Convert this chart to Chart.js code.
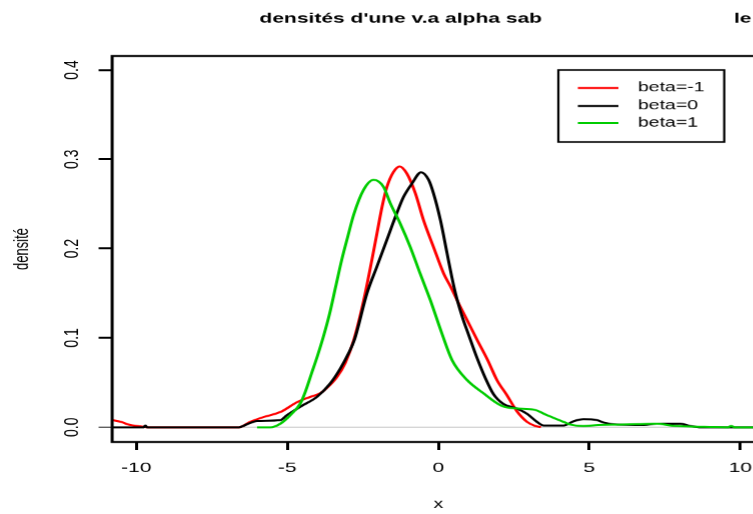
<!DOCTYPE html>
<html>
<head>
<meta charset="utf-8">
<title>densités d'une v.a alpha sab</title>
<script src="https://cdn.jsdelivr.net/npm/chart.js@4.4.1/dist/chart.umd.min.js"></script>
<style>
  html, body { margin: 0; padding: 0; background: #fff; overflow: hidden; }
  /* the source picture is stretched sideways, so the chart is drawn narrow and widened */
  #wrap { position: absolute; left: 0; top: 0; width: 527px; height: 514px; transform: scaleX(1.5); transform-origin: 0 0; }
</style>
</head>
<body>
<div id="wrap"><canvas id="densityChart"></canvas></div>
<script>
// Density estimates
const redX = [-10.8, -10.5, -10.3, -10.1, -9.87, -9.6, -6.6, -6.23, -5.78, -5.23, -4.68, -4.24, -3.91, -3.69, -3.36, -3.08, -2.8, -2.47, -2.2, -2.03, -1.86, -1.7, -1.48, -1.28, -1.04, -0.76, -0.49, -0.16, 0.18, 0.4, 0.7, 1.0, 1.3, 1.64, 1.94, 2.27, 2.6, 2.94, 3.21, 3.4];
const redY = [0.008, 0.006, 0.0034, 0.002, 0.001, 0, 0, 0.006, 0.0115, 0.017, 0.028, 0.034, 0.038, 0.044, 0.056, 0.072, 0.0975, 0.142, 0.187, 0.217, 0.247, 0.269, 0.286, 0.292, 0.284, 0.262, 0.232, 0.202, 0.172, 0.158, 0.137, 0.117, 0.097, 0.075, 0.053, 0.036, 0.018, 0.006, 0.0015, 0];

const blackX = [-10.8, -9.75, -9.7, -9.65, -6.6, -6.33, -6.0, -5.23, -5.01, -4.57, -4.02, -3.58, -3.24, -2.97, -2.78, -2.36, -2.03, -1.7, -1.37, -1.15, -0.87, -0.57, -0.32, -0.16, 0.07, 0.29, 0.45, 0.6, 0.8, 1.0, 1.29, 1.56, 1.83, 2.16, 2.6, 2.94, 3.27, 3.49, 4.15, 4.48, 4.81, 5.25, 5.5, 5.92, 6.8, 7.24, 8.01, 8.34, 8.7, 10.8];
const blackY = [0, 0, 0.002, 0, 0, 0.0034, 0.007, 0.008, 0.0135, 0.023, 0.034, 0.049, 0.066, 0.083, 0.0975, 0.15, 0.18, 0.21, 0.24, 0.258, 0.273, 0.2855, 0.277, 0.262, 0.232, 0.195, 0.168, 0.146, 0.123, 0.104, 0.077, 0.055, 0.037, 0.026, 0.021, 0.015, 0.006, 0.002, 0.002, 0.0067, 0.009, 0.008, 0.005, 0.003, 0.0025, 0.004, 0.004, 0.0015, 0, 0];

const greenX = [-6.0, -5.56, -5.23, -4.9, -4.57, -4.4, -4.2, -4.0, -3.8, -3.6, -3.4, -3.2, -3.0, -2.8, -2.47, -2.14, -1.81, -1.59, -1.26, -0.93, -0.6, -0.26, 0.12, 0.46, 0.95, 1.5, 2.1, 2.6, 3.16, 3.6, 4.15, 4.37, 4.8, 5.3, 6.0, 6.6, 7.24, 7.7, 8.3, 9.0, 9.6, 9.7, 9.8, 10.8];
const greenY = [0, 0, 0.004, 0.0135, 0.0265, 0.04, 0.06, 0.08, 0.102, 0.127, 0.157, 0.187, 0.213, 0.238, 0.266, 0.277, 0.269, 0.251, 0.228, 0.202, 0.172, 0.142, 0.105, 0.075, 0.053, 0.038, 0.024, 0.021, 0.0198, 0.0135, 0.006, 0.003, 0.0015, 0.0025, 0.003, 0.0035, 0.004, 0.002, 0.0008, 0.0003, 0, 0.0015, 0, 0];

const seriesLabels = ["beta=-1", "beta=0", "beta=1"];
const xTicks = [-10, -5, 0, 5, 10];
const yTicks = [0.0, 0.1, 0.2, 0.3, 0.4];

const FONT = '"Liberation Sans", Arial, sans-serif';

function toPoints(xs, ys) {
    return xs.map((x, i) => ({ x: x, y: ys[i] }));
}

// Frame, main titles and the boxed legend, drawn like base R graphics
const framePlugin = {
    id: "framePlugin",
    afterDraw(chart) {
        const ctx = chart.ctx;
        const a = chart.chartArea;
        ctx.save();

        ctx.strokeStyle = "#000";
        ctx.lineWidth = 2;
        ctx.strokeRect(a.left, a.top, a.right - a.left, a.bottom - a.top);

        ctx.fillStyle = "#000";
        ctx.textBaseline = "middle";
        ctx.font = "bold 14px " + FONT;
        ctx.textAlign = "center";
        ctx.fillText("densités d'une v.a alpha sab", 267, 19);
        ctx.textAlign = "left";
        ctx.fillText("le", 489, 19);

        // legend box
        ctx.lineWidth = 1.5;
        ctx.strokeRect(372, 70, 110.5, 72);
        const rows = [88, 106, 123];
        ctx.font = "13px " + FONT;
        chart.data.datasets.forEach((ds, i) => {
            ctx.strokeStyle = ds.borderColor;
            ctx.lineWidth = 2;
            ctx.beginPath();
            ctx.moveTo(385, rows[i]);
            ctx.lineTo(412, rows[i]);
            ctx.stroke();
            ctx.fillText(ds.label, 425, rows[i]);
        });

        ctx.restore();
    }
};

const ctx = document.getElementById("densityChart").getContext("2d");
const densityChart = new Chart(ctx, {
    type: "line",
    data: {
        datasets: [
            {
                label: seriesLabels[0],
                data: toPoints(redX, redY),
                borderColor: "#ff0000",
                order: 3,
            },
            {
                label: seriesLabels[1],
                data: toPoints(blackX, blackY),
                borderColor: "#000000",
                order: 2,
            },
            {
                label: seriesLabels[2],
                data: toPoints(greenX, greenY),
                borderColor: "#00cc00",
                order: 1,
            },
        ],
    },
    options: {
        responsive: true,
        maintainAspectRatio: false,
        animation: false,
        devicePixelRatio: 1.5,
        layout: { padding: { top: 56, right: 17.7, left: 0, bottom: 0 } },
        elements: {
            point: { radius: 0 },
            line: { borderWidth: 2, cubicInterpolationMode: "monotone", fill: false },
        },
        plugins: {
            legend: { display: false },
            tooltip: { enabled: false },
        },
        scales: {
            x: {
                type: "linear",
                min: -10.8,
                max: 10.8,
                afterBuildTicks: (axis) => { axis.ticks = xTicks.map((v) => ({ value: v })); },
                afterFit: (axis) => { axis.height = 72; },
                border: { display: false },
                grid: { drawOnChartArea: false, tickLength: 8, tickColor: "#000", lineWidth: 2 },
                ticks: {
                    color: "#000",
                    font: { family: FONT, size: 14 },
                    padding: 10,
                    maxRotation: 0,
                    callback: (v) => String(v),
                },
                title: {
                    display: true,
                    text: "x",
                    color: "#000",
                    font: { family: FONT, size: 13 },
                    padding: { top: 0, bottom: 2 },
                },
            },
            y: {
                min: -0.0165,
                max: 0.4157,
                afterBuildTicks: (axis) => { axis.ticks = yTicks.map((v) => ({ value: v })); },
                afterFit: (axis) => { axis.width = 74.7; },
                border: { display: false },
                grid: {
                    drawOnChartArea: true,
                    color: (c) => (c.tick && c.tick.value === 0 ? "#bebebe" : "rgba(0,0,0,0)"),
                    lineWidth: (c) => (c.tick && c.tick.value === 0 ? 1 : 2),
                    tickColor: "#000",
                    tickLength: 9,
                },
                ticks: {
                    color: "#000",
                    font: { family: FONT, size: 14 },
                    minRotation: 90,
                    maxRotation: 90,
                    crossAlign: "center",
                    padding: 8,
                    callback: (v) => v.toFixed(1),
                },
                title: {
                    display: true,
                    text: "densité",
                    color: "#000",
                    font: { family: FONT, size: 13 },
                    padding: { top: 7, bottom: 0 },
                },
            },
        },
    },
    plugins: [framePlugin],
});
</script>
</body>
</html>
